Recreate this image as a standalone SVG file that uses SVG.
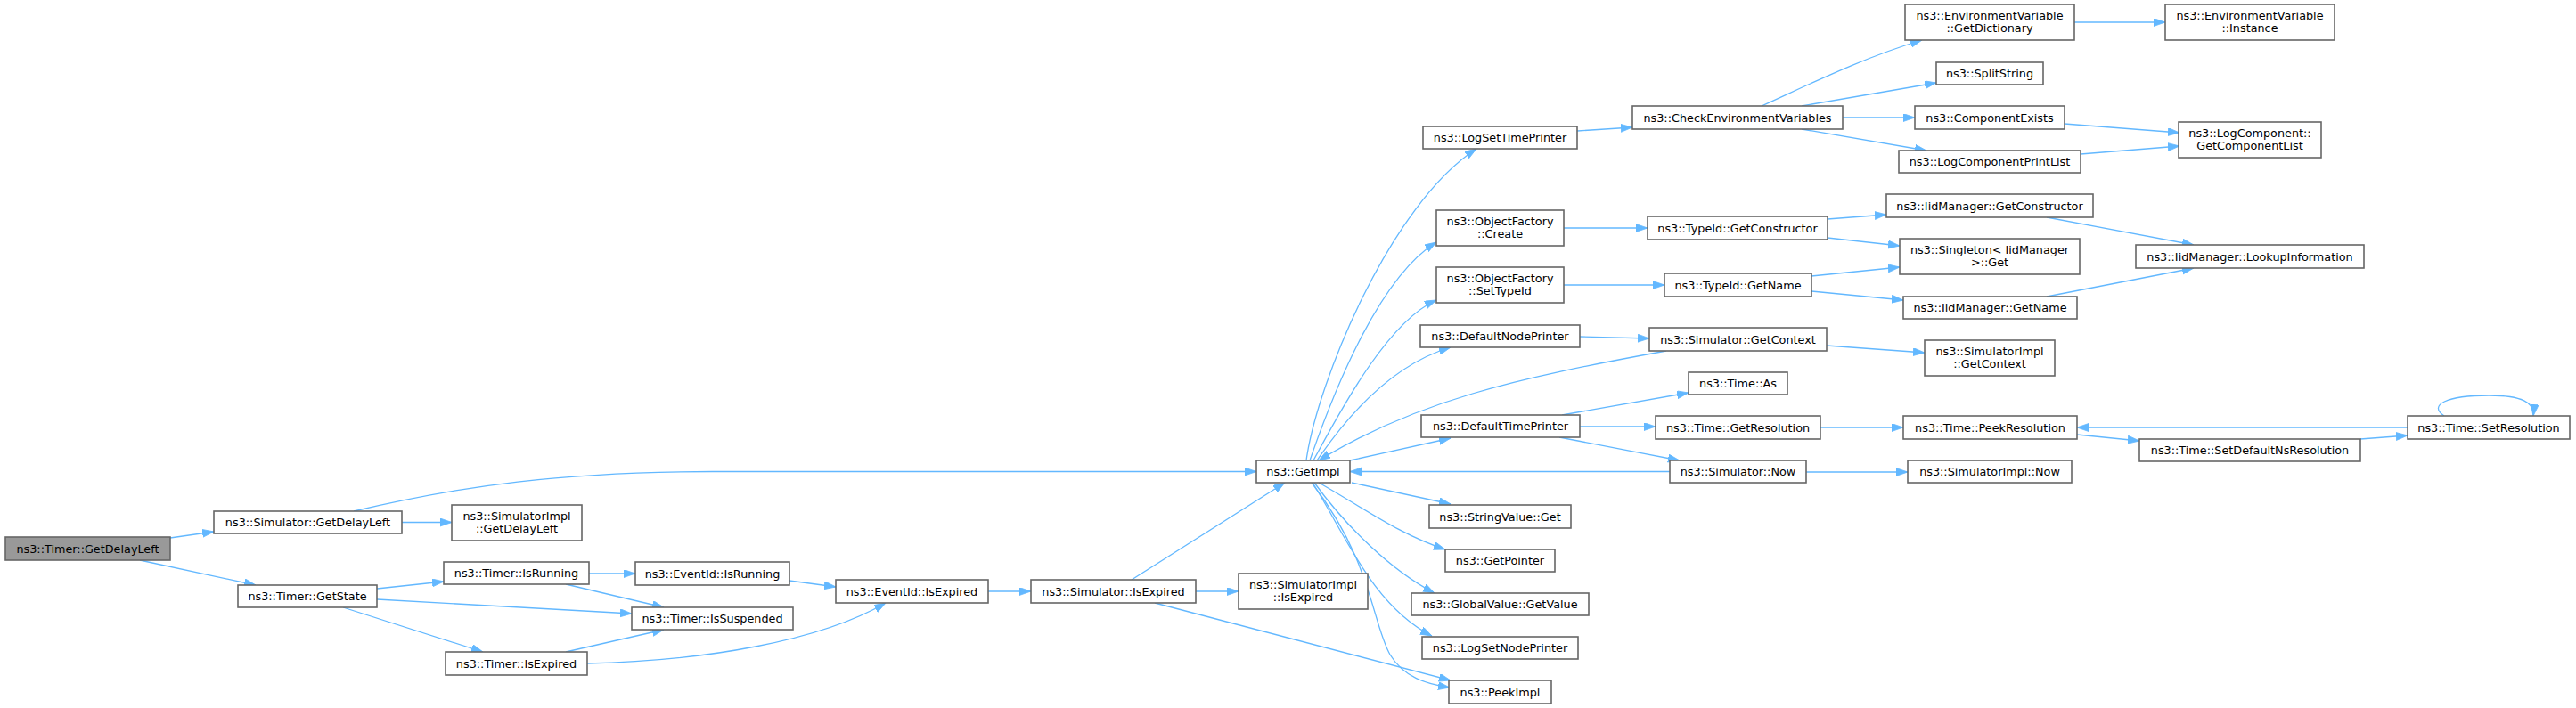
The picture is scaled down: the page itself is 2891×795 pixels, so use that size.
<svg xmlns="http://www.w3.org/2000/svg" width="2891" height="795" viewBox="0 0 2891 795">
<style>
.node rect{fill:#ffffff;stroke:#666666;stroke-width:1.6}
.root rect{fill:#999999}
text{font-family:"DejaVu Sans","Liberation Sans",sans-serif;font-size:12.8px;text-anchor:middle;fill:#000000}
.edges path{fill:none;stroke:#63b8ff;stroke-width:1.3;marker-end:url(#arr)}
</style>
<defs>
<marker id="arr" markerUnits="userSpaceOnUse" markerWidth="14" markerHeight="10" refX="13" refY="4.5" orient="auto">
<path d="M0,0 L13,4.5 L0,9 z" fill="#63b8ff" stroke="#63b8ff" stroke-width="0.8"/>
</marker>
</defs>
<rect x="0" y="0" width="2891" height="795" fill="#ffffff"/>
<g id="edges" class="edges">
<path d="M191,604 L240,597"/>
<path d="M157,629 L287,657"/>
<path d="M397,574 C520,545 630,530 800,529.5 L1410,529.5"/>
<path d="M451,586.5 L507,586.5"/>
<path d="M423,661 L498,653"/>
<path d="M423,673 L709,689"/>
<path d="M385,682 L542,732"/>
<path d="M661,644 L713,644"/>
<path d="M635,656 L745,682"/>
<path d="M635,732 L745,707"/>
<path d="M659,745 C790,742 920,720 994,677"/>
<path d="M886,652 L938,659"/>
<path d="M1109,664 L1157,664"/>
<path d="M1270,651 L1442,542"/>
<path d="M1342,664 L1390,664"/>
<path d="M1296,677 L1628,764"/>
<path d="M1466,517 C1478,430 1560,230 1657,167"/>
<path d="M1470,517 C1500,430 1550,310 1612,272"/>
<path d="M1474,517 C1510,450 1560,360 1612,337"/>
<path d="M1478,517 C1510,470 1560,410 1628,390"/>
<path d="M1515,517 L1628,492"/>
<path d="M1870,394 C1700,425 1590,450 1480,517"/>
<path d="M1517,542 L1628,566"/>
<path d="M1480,542 C1530,570 1570,600 1622,617"/>
<path d="M1475,542 C1510,590 1560,640 1610,666"/>
<path d="M1473,542 C1510,600 1540,680 1607,714"/>
<path d="M1472,542 C1540,630 1540,700 1560,735 C1575,760 1600,768 1627,772"/>
<path d="M1770,147 L1832,143"/>
<path d="M1977,119 C2030,95 2090,65 2157,45"/>
<path d="M2022,119 L2173,93"/>
<path d="M2068,132 L2149,132"/>
<path d="M2022,145 L2162,169"/>
<path d="M2328,25 L2430,25"/>
<path d="M2317,139 L2446,149"/>
<path d="M2335,173 L2446,164"/>
<path d="M1755,256 L1849,256"/>
<path d="M2051,246 L2117,241"/>
<path d="M2051,267 L2132,276"/>
<path d="M2297,244 L2462,275"/>
<path d="M1755,320 L1868,320"/>
<path d="M2033,310 L2132,300"/>
<path d="M2033,327 L2136,337"/>
<path d="M2297,333 L2462,301"/>
<path d="M1773,378 L1851,380"/>
<path d="M2050,388 L2160,396"/>
<path d="M1753,466 L1895,441"/>
<path d="M1773,479 L1858,479"/>
<path d="M1750,491 L1885,517"/>
<path d="M2043,480 L2136,480"/>
<path d="M1874,529.5 L1515,529.5"/>
<path d="M2027,530 L2141,530"/>
<path d="M2331,488 L2401,495"/>
<path d="M2649,493 L2702,489"/>
<path d="M2702,480 L2331,480"/>
<path d="M2743,467 C2725,455 2745,444 2793,444 C2830,444 2845,452 2843,467"/>
</g>
<g id="n1" class="node root"><rect x="6" y="603" width="185" height="26"/><text x="98.5" y="620.5">ns3::Timer::GetDelayLeft</text></g>
<g id="n2" class="node"><rect x="240" y="574" width="211" height="25"/><text x="345.5" y="591">ns3::Simulator::GetDelayLeft</text></g>
<g id="n3" class="node"><rect x="507" y="567" width="146" height="40"/><text x="580" y="583.5">ns3::SimulatorImpl</text><text x="580" y="598">::GetDelayLeft</text></g>
<g id="n4" class="node"><rect x="267" y="657" width="156" height="25"/><text x="345" y="674">ns3::Timer::GetState</text></g>
<g id="n5" class="node"><rect x="498" y="631" width="163" height="25"/><text x="579.5" y="648">ns3::Timer::IsRunning</text></g>
<g id="n6" class="node"><rect x="500" y="732" width="159" height="26"/><text x="579.5" y="749.5">ns3::Timer::IsExpired</text></g>
<g id="n7" class="node"><rect x="709" y="682" width="181" height="25"/><text x="799.5" y="699">ns3::Timer::IsSuspended</text></g>
<g id="n8" class="node"><rect x="713" y="631" width="173" height="26"/><text x="799.5" y="648.5">ns3::EventId::IsRunning</text></g>
<g id="n9" class="node"><rect x="938" y="651" width="171" height="26"/><text x="1023.5" y="668.5">ns3::EventId::IsExpired</text></g>
<g id="n10" class="node"><rect x="1157" y="651" width="185" height="26"/><text x="1249.5" y="668.5">ns3::Simulator::IsExpired</text></g>
<g id="n11" class="node"><rect x="1390" y="644" width="145" height="40"/><text x="1462.5" y="660.5">ns3::SimulatorImpl</text><text x="1462.5" y="675">::IsExpired</text></g>
<g id="n12" class="node"><rect x="1410" y="517" width="105" height="25"/><text x="1462.5" y="534">ns3::GetImpl</text></g>
<g id="n13" class="node"><rect x="1597" y="142" width="173" height="25"/><text x="1683.5" y="159">ns3::LogSetTimePrinter</text></g>
<g id="n14" class="node"><rect x="1612" y="236" width="143" height="40"/><text x="1683.5" y="252.5">ns3::ObjectFactory</text><text x="1683.5" y="267">::Create</text></g>
<g id="n15" class="node"><rect x="1612" y="300" width="143" height="40"/><text x="1683.5" y="316.5">ns3::ObjectFactory</text><text x="1683.5" y="331">::SetTypeId</text></g>
<g id="n16" class="node"><rect x="1594" y="365" width="179" height="25"/><text x="1683.5" y="382">ns3::DefaultNodePrinter</text></g>
<g id="n17" class="node"><rect x="1595" y="466" width="178" height="25"/><text x="1684" y="483">ns3::DefaultTimePrinter</text></g>
<g id="n18" class="node"><rect x="1604" y="567" width="159" height="26"/><text x="1683.5" y="584.5">ns3::StringValue::Get</text></g>
<g id="n19" class="node"><rect x="1622" y="617" width="123" height="25"/><text x="1683.5" y="634">ns3::GetPointer</text></g>
<g id="n20" class="node"><rect x="1584" y="666" width="199" height="25"/><text x="1683.5" y="683">ns3::GlobalValue::GetValue</text></g>
<g id="n21" class="node"><rect x="1596" y="715" width="175" height="25"/><text x="1683.5" y="732">ns3::LogSetNodePrinter</text></g>
<g id="n22" class="node"><rect x="1626" y="764" width="115" height="26"/><text x="1683.5" y="781.5">ns3::PeekImpl</text></g>
<g id="n23" class="node"><rect x="1832" y="119" width="236" height="26"/><text x="1950" y="136.5">ns3::CheckEnvironmentVariables</text></g>
<g id="n24" class="node"><rect x="1849" y="243" width="202" height="26"/><text x="1950" y="260.5">ns3::TypeId::GetConstructor</text></g>
<g id="n25" class="node"><rect x="1868" y="307" width="165" height="26"/><text x="1950.5" y="324.5">ns3::TypeId::GetName</text></g>
<g id="n26" class="node"><rect x="1851" y="368" width="199" height="26"/><text x="1950.5" y="385.5">ns3::Simulator::GetContext</text></g>
<g id="n27" class="node"><rect x="1895" y="418" width="111" height="25"/><text x="1950.5" y="435">ns3::Time::As</text></g>
<g id="n28" class="node"><rect x="1858" y="467" width="185" height="26"/><text x="1950.5" y="484.5">ns3::Time::GetResolution</text></g>
<g id="n29" class="node"><rect x="1874" y="517" width="153" height="25"/><text x="1950.5" y="534">ns3::Simulator::Now</text></g>
<g id="n30" class="node"><rect x="2138" y="5" width="190" height="40"/><text x="2233" y="21.5">ns3::EnvironmentVariable</text><text x="2233" y="36">::GetDictionary</text></g>
<g id="n31" class="node"><rect x="2173" y="70" width="120" height="25"/><text x="2233" y="87">ns3::SplitString</text></g>
<g id="n32" class="node"><rect x="2149" y="119" width="168" height="26"/><text x="2233" y="136.5">ns3::ComponentExists</text></g>
<g id="n33" class="node"><rect x="2131" y="169" width="204" height="25"/><text x="2233" y="186">ns3::LogComponentPrintList</text></g>
<g id="n34" class="node"><rect x="2117" y="218" width="232" height="26"/><text x="2233" y="235.5">ns3::IidManager::GetConstructor</text></g>
<g id="n35" class="node"><rect x="2132" y="268" width="202" height="40"/><text x="2233" y="284.5">ns3::Singleton&lt; IidManager</text><text x="2233" y="299">&gt;::Get</text></g>
<g id="n36" class="node"><rect x="2136" y="333" width="195" height="25"/><text x="2233.5" y="350">ns3::IidManager::GetName</text></g>
<g id="n37" class="node"><rect x="2160" y="382" width="146" height="40"/><text x="2233" y="398.5">ns3::SimulatorImpl</text><text x="2233" y="413">::GetContext</text></g>
<g id="n38" class="node"><rect x="2136" y="467" width="195" height="26"/><text x="2233.5" y="484.5">ns3::Time::PeekResolution</text></g>
<g id="n39" class="node"><rect x="2141" y="517" width="184" height="25"/><text x="2233" y="534">ns3::SimulatorImpl::Now</text></g>
<g id="n40" class="node"><rect x="2430" y="5" width="190" height="40"/><text x="2525" y="21.5">ns3::EnvironmentVariable</text><text x="2525" y="36">::Instance</text></g>
<g id="n41" class="node"><rect x="2445" y="137" width="160" height="40"/><text x="2525" y="153.5">ns3::LogComponent::</text><text x="2525" y="168">GetComponentList</text></g>
<g id="n42" class="node"><rect x="2397" y="275" width="256" height="26"/><text x="2525" y="292.5">ns3::IidManager::LookupInformation</text></g>
<g id="n43" class="node"><rect x="2401" y="493" width="248" height="25"/><text x="2525" y="510">ns3::Time::SetDefaultNsResolution</text></g>
<g id="n44" class="node"><rect x="2702" y="467" width="182" height="26"/><text x="2793" y="484.5">ns3::Time::SetResolution</text></g>
</svg>
